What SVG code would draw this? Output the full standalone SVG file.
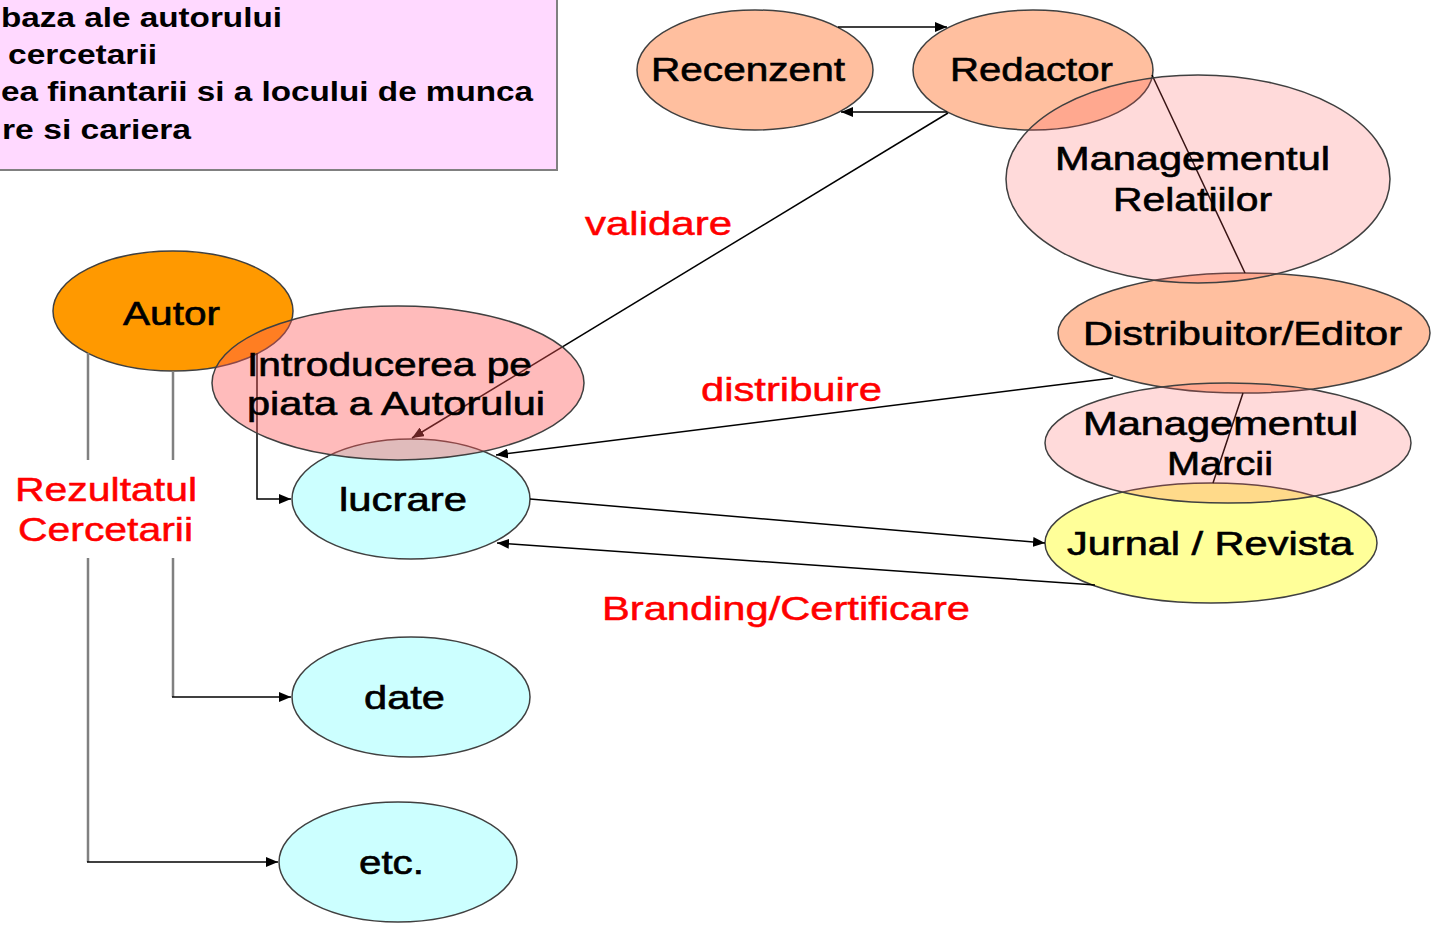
<svg xmlns="http://www.w3.org/2000/svg" width="1432" height="925" viewBox="0 0 1432 925">
<defs>
<marker id="arr" viewBox="0 0 12 10" refX="12" refY="5" markerWidth="12" markerHeight="10" markerUnits="userSpaceOnUse" orient="auto">
<path d="M0,0 L12,5 L0,10 z" fill="#000"/>
</marker>
</defs>
<style>
.n{stroke:#404040;stroke-width:1.5}
.peach{fill:#FFBF9F}
.orange{fill:#FF9900}
.cyan{fill:#CCFFFF}
.yellow{fill:#FFFF99}
.tr{fill:#FF5656;fill-opacity:0.22}
.tr2{fill:#FF5656;fill-opacity:0.4}
.t{font-family:"Liberation Sans",Arial,sans-serif;font-size:33px;fill:#000;stroke:#000;stroke-width:0.6;text-anchor:middle}
.r{font-family:"Liberation Sans",Arial,sans-serif;font-size:33px;fill:#FF0000;stroke:#FF0000;stroke-width:0.5;text-anchor:middle}
.b{font-family:"Liberation Sans",Arial,sans-serif;font-size:27px;font-weight:bold;fill:#000}
.c{fill:none;stroke:#000;stroke-width:1.5}
.g{fill:none;stroke:#808080;stroke-width:2.5}
</style>
<rect width="1432" height="925" fill="#fff"/>
<g id="box">
<rect x="-4" y="-4" width="561" height="174" fill="#FFD9FF" stroke="#808080" stroke-width="2"/>
<text class="b" x="1" y="27" textLength="281" lengthAdjust="spacingAndGlyphs">baza ale autorului</text>
<text class="b" x="8" y="64" textLength="149" lengthAdjust="spacingAndGlyphs">cercetarii</text>
<text class="b" x="1" y="101" textLength="532" lengthAdjust="spacingAndGlyphs">ea finantarii si a locului de munca</text>
<text class="b" x="2" y="139" textLength="189" lengthAdjust="spacingAndGlyphs">re si cariera</text>
</g>
<g id="recenzent">
<ellipse class="n peach" cx="755" cy="70" rx="118" ry="60"/>
<text class="t" x="748" y="81" textLength="194" lengthAdjust="spacingAndGlyphs">Recenzent</text>
</g>
<g id="redactor">
<ellipse class="n peach" cx="1033" cy="70" rx="120" ry="60"/>
<text class="t" x="1031.5" y="81" textLength="163" lengthAdjust="spacingAndGlyphs">Redactor</text>
</g>
<g id="distribuitor">
<ellipse class="n peach" cx="1244" cy="333" rx="186" ry="60"/>
<text class="t" x="1242.5" y="345" textLength="319" lengthAdjust="spacingAndGlyphs">Distribuitor/Editor</text>
</g>
<g id="jurnal">
<ellipse class="n yellow" cx="1211" cy="543" rx="166" ry="60"/>
<text class="t" x="1210" y="555" textLength="286" lengthAdjust="spacingAndGlyphs">Jurnal / Revista</text>
</g>
<g id="autor">
<ellipse class="n orange" cx="173" cy="311" rx="120" ry="60"/>
<text class="t" x="171.5" y="325" textLength="97" lengthAdjust="spacingAndGlyphs">Autor</text>
</g>
<g id="lucrare">
<ellipse class="n cyan" cx="411" cy="499" rx="119" ry="60"/>
<text class="t" x="403" y="511" textLength="128" lengthAdjust="spacingAndGlyphs">lucrare</text>
</g>
<g id="date">
<ellipse class="n cyan" cx="411" cy="697" rx="119" ry="60"/>
<text class="t" x="404.5" y="709" textLength="81" lengthAdjust="spacingAndGlyphs">date</text>
</g>
<g id="etc">
<ellipse class="n cyan" cx="398" cy="862" rx="119" ry="60"/>
<text class="t" x="391.5" y="874" textLength="65" lengthAdjust="spacingAndGlyphs">etc.</text>
</g>
<g id="connectors">
<path class="c" d="M838 27 H947" marker-end="url(#arr)"/>
<path class="c" d="M947 112 H841" marker-end="url(#arr)"/>
<path class="c" d="M948 113 L412 438" marker-end="url(#arr)"/>
<path class="c" d="M1113 378 L496 455" marker-end="url(#arr)"/>
<path class="c" d="M530 499 L1045 543" marker-end="url(#arr)"/>
<path class="c" d="M1095 585 L497 543" marker-end="url(#arr)"/>
<path class="c" d="M1152 75 L1245 273"/>
<path class="c" d="M1243 393 L1213 483"/>
<path class="c" d="M257 353 V499 H291" marker-end="url(#arr)"/>
<path class="g" d="M173 371 V460 M173 558 V697"/>
<path class="c" d="M172 697 H291" marker-end="url(#arr)"/>
<path class="g" d="M88 353 V460 M88 558 V862"/>
<path class="c" d="M87 862 H278" marker-end="url(#arr)"/>
<text class="r" x="658.5" y="235" textLength="147" lengthAdjust="spacingAndGlyphs">validare</text>
<text class="r" x="791.5" y="401" textLength="181" lengthAdjust="spacingAndGlyphs">distribuire</text>
<text class="r" x="786" y="620" textLength="368" lengthAdjust="spacingAndGlyphs">Branding/Certificare</text>
<text class="r" x="106" y="501" textLength="182" lengthAdjust="spacingAndGlyphs">Rezultatul</text>
<text class="r" x="105.5" y="541" textLength="175" lengthAdjust="spacingAndGlyphs">Cercetarii</text>
</g>
<g id="mgmt-relatii">
<ellipse class="n tr" cx="1198" cy="179" rx="192" ry="104"/>
<text class="t" x="1192.5" y="170" textLength="275" lengthAdjust="spacingAndGlyphs">Managementul</text>
<text class="t" x="1192.5" y="211" textLength="159" lengthAdjust="spacingAndGlyphs">Relatiilor</text>
</g>
<g id="introducerea">
<ellipse class="n tr2" cx="398" cy="383" rx="186" ry="77"/>
<text class="t" x="389.5" y="376" textLength="285" lengthAdjust="spacingAndGlyphs">Introducerea pe</text>
<text class="t" x="396" y="415" textLength="298" lengthAdjust="spacingAndGlyphs">piata a Autorului</text>
</g>
<g id="mgmt-marcii">
<ellipse class="n tr" cx="1228" cy="443" rx="183" ry="60"/>
<text class="t" x="1220.5" y="435" textLength="275" lengthAdjust="spacingAndGlyphs">Managementul</text>
<text class="t" x="1220" y="475" textLength="106" lengthAdjust="spacingAndGlyphs">Marcii</text>
</g>
</svg>
